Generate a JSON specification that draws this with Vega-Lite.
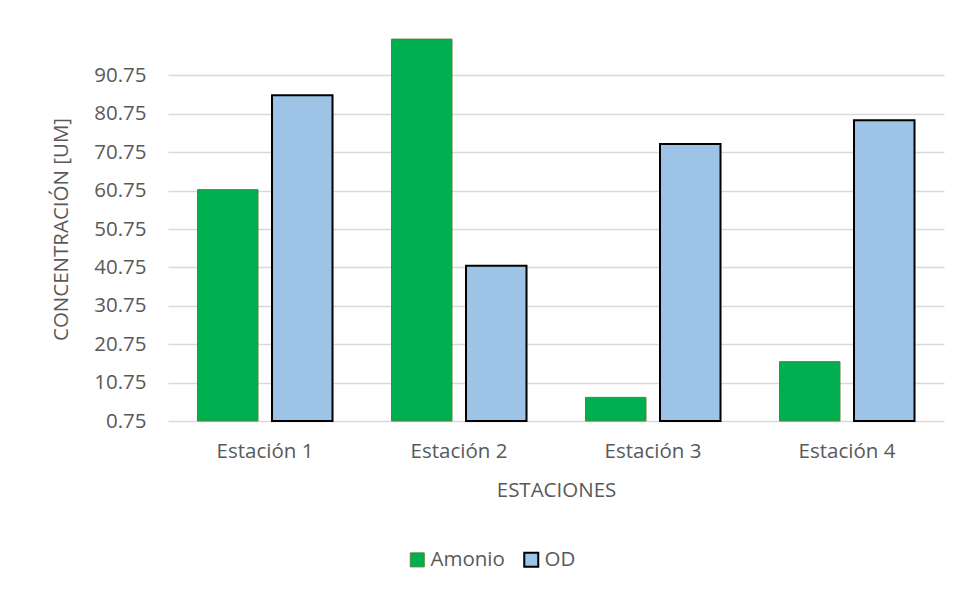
{
  "$schema": "https://vega.github.io/schema/vega-lite/v6.json",
  "width": 776,
  "height": 384,
  "autosize": {"type": "none"},
  "padding": {"left": 168, "top": 37, "right": 17, "bottom": 169},
  "background": "#ffffff",
  "config": {
    "view": {"stroke": null},
    "font": "Open Sans",
    "axis": {
      "labelFont": "Open Sans",
      "titleFont": "Open Sans",
      "labelColor": "#595959",
      "titleColor": "#595959",
      "labelFontSize": 20.5,
      "titleFontSize": 20.5,
      "titleFontWeight": "normal",
      "ticks": false,
      "domain": false
    },
    "legend": {
      "labelFont": "Open Sans",
      "labelColor": "#595959",
      "labelFontSize": 20.5
    }
  },
  "data": {
    "values": [
      {"estacion": "Estación 1", "serie": "Amonio", "valor": 61.0},
      {"estacion": "Estación 1", "serie": "OD", "valor": 85.6},
      {"estacion": "Estación 2", "serie": "Amonio", "valor": 100.2},
      {"estacion": "Estación 2", "serie": "OD", "valor": 41.2},
      {"estacion": "Estación 3", "serie": "Amonio", "valor": 6.9},
      {"estacion": "Estación 3", "serie": "OD", "valor": 72.9},
      {"estacion": "Estación 4", "serie": "Amonio", "valor": 16.2},
      {"estacion": "Estación 4", "serie": "OD", "valor": 79.1}
    ]
  },
  "mark": {"type": "bar"},
  "encoding": {
    "x": {
      "field": "estacion",
      "type": "nominal",
      "sort": null,
      "scale": {"paddingInner": 0.304, "paddingOuter": 0.152},
      "axis": {
        "title": "ESTACIONES",
        "labelAngle": 0,
        "labelPadding": 20,
        "titlePadding": 19
      }
    },
    "xOffset": {
      "field": "serie",
      "type": "nominal",
      "sort": ["Amonio", "OD"],
      "scale": {"paddingInner": 0.188, "paddingOuter": 0}
    },
    "y": {
      "field": "valor",
      "type": "quantitative",
      "scale": {"domain": [0.75, 100.75], "zero": false, "nice": false},
      "axis": {
        "title": "CONCENTRACIÓN [UM]",
        "values": [0.75, 10.75, 20.75, 30.75, 40.75, 50.75, 60.75, 70.75, 80.75, 90.75],
        "format": ".2f",
        "grid": true,
        "gridColor": "#d9d9d9",
        "gridWidth": 1.3,
        "labelPadding": 22,
        "titlePadding": 22
      }
    },
    "y2": {"datum": 0.75},
    "fill": {
      "field": "serie",
      "type": "nominal",
      "sort": ["Amonio", "OD"],
      "scale": {"domain": ["Amonio", "OD"], "range": ["#00B050", "#9DC3E6"]},
      "legend": {
        "title": null,
        "orient": "none",
        "direction": "horizontal",
        "legendX": 239,
        "legendY": 512,
        "symbolType": "square",
        "symbolSize": 196,
        "symbolStrokeWidth": 1.5,
        "labelOffset": 3,
        "columnPadding": 15
      }
    },
    "stroke": {
      "field": "serie",
      "type": "nominal",
      "sort": ["Amonio", "OD"],
      "scale": {"domain": ["Amonio", "OD"], "range": ["#548235", "#000000"]}
    },
    "strokeWidth": {
      "field": "serie",
      "type": "nominal",
      "scale": {"domain": ["Amonio", "OD"], "range": [1, 2]},
      "legend": null
    }
  }
}
